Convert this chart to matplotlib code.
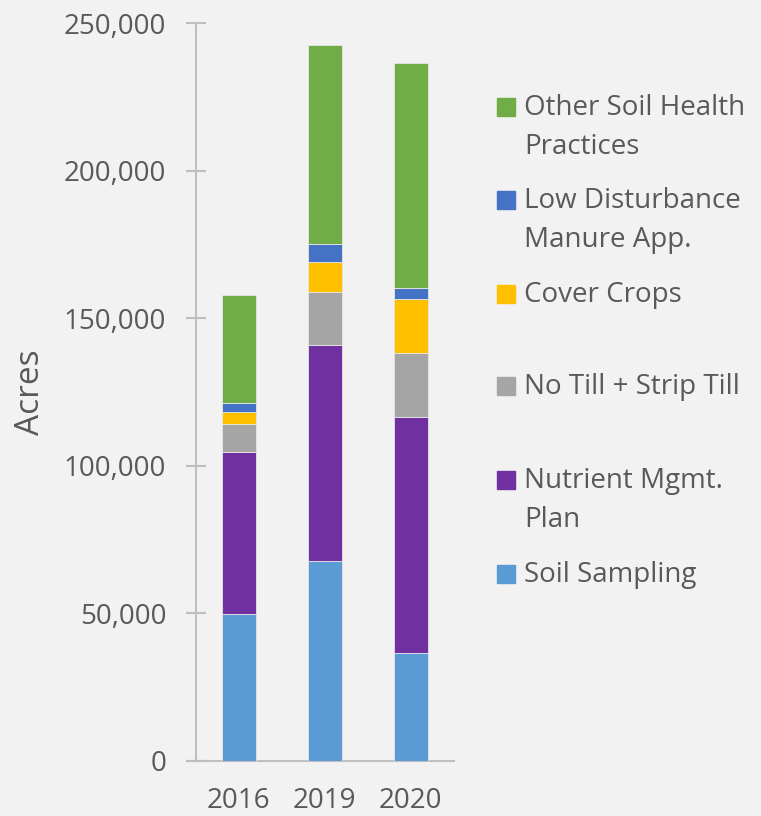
import numpy as np
import matplotlib
matplotlib.use('Agg')
import matplotlib.pyplot as plt
from matplotlib.patches import Rectangle
from matplotlib.ticker import FuncFormatter

plt.rcParams['font.family'] = ['Open Sans', 'DejaVu Sans']

years = ['2016', '2019', '2020']
series = ['Soil Sampling', 'Nutrient Mgmt.\nPlan', 'No Till + Strip Till',
          'Cover Crops', 'Low Disturbance\nManure App.', 'Other Soil Health\nPractices']
colors = ['#5B9BD5', '#7030A0', '#A5A5A5', '#FFC000', '#4472C4', '#70AD47']

# acres per practice, one list per year order above
soil_sampling = [49700, 67700, 36400]
nutrient_plan = [55000, 73100, 80200]
no_till = [9300, 18100, 21400]
cover_crops = [4200, 10200, 18300]
low_disturb = [3000, 6000, 4000]
other = [36600, 67300, 76100]
values = [soil_sampling, nutrient_plan, no_till, cover_crops, low_disturb, other]

bg = '#F2F2F2'
txt = '#595959'
axc = '#BFBFBF'

fig = plt.figure(figsize=(7.61, 8.16), dpi=100, facecolor=bg)
ax = fig.add_axes([0.2572, 0.0678, 0.3390, 0.9040], facecolor=bg)

x = np.arange(len(years))
bottom = np.zeros(len(years))
for vals, c in zip(values, colors):
    ax.bar(x, vals, width=0.40, bottom=bottom, color=c,
           edgecolor='#E6E6E6', linewidth=0.6, zorder=3)
    bottom += np.array(vals)

ax.set_xlim(-0.5, 2.5)
ax.set_ylim(0, 250000)
ax.set_yticks(np.arange(0, 250001, 50000))
ax.yaxis.set_major_formatter(FuncFormatter(lambda v, p: f'{int(v):,}'))
ax.set_xticks(x)
ax.set_xticklabels(years)

for s in ['top', 'right']:
    ax.spines[s].set_visible(False)
for s in ['left', 'bottom']:
    ax.spines[s].set_color(axc)
    ax.spines[s].set_linewidth(1.5)
ax.plot([-0.035, 0], [0, 0], transform=ax.transAxes, color=axc, lw=1.5,
        clip_on=False, solid_capstyle='butt')

ax.tick_params(axis='y', direction='inout', length=14.5, width=1.5, color=axc,
               labelsize=20, labelcolor=txt, pad=14)
ax.tick_params(axis='x', length=0, labelsize=20, labelcolor=txt, pad=19)

fig.text(31 / 761, 1 - 391.7 / 816, 'Acres', rotation=90, ha='center', va='center',
         fontsize=24, color=txt)

# legend drawn by hand, top entry is last series
centers = [107, 200, 294, 386.5, 480, 574]
for name, c, yc in zip(series[::-1], colors[::-1], centers):
    fig.add_artist(Rectangle((497 / 761, 1 - (yc + 9) / 816), 18 / 761, 18 / 816,
                             transform=fig.transFigure, color=c))
    for i, line in enumerate(name.split('\n')):
        fig.text(524 / 761, 1 - (yc + 8 + 39 * i) / 816, line, ha='left',
                 va='baseline', fontsize=20, color=txt)

fig.savefig('out.png', dpi=100, facecolor=bg)
